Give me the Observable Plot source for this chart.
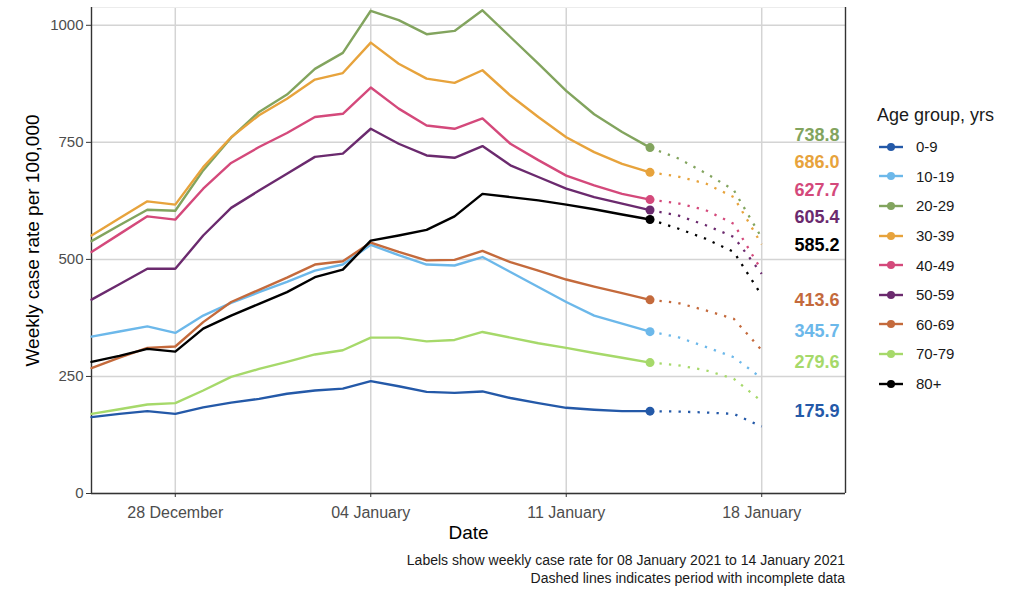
<!DOCTYPE html>
<html>
<head>
<meta charset="utf-8">
<script src="https://cdn.jsdelivr.net/npm/d3@7"></script>
<script src="https://cdn.jsdelivr.net/npm/@observablehq/plot@0.6"></script>
<style>
  html, body { margin: 0; padding: 0; background: #fff; }
  body { width: 1017px; height: 590px; position: relative; font-family: "Liberation Sans", Arial, sans-serif; overflow: hidden; }
  #caption { width: 845px; text-align: right; font-size: 14px; line-height: 18px; color: #1a1a1a; padding-top: 6px; }
  #legend { position: absolute; left: 877px; top: 100px; color: #1a1a1a; }
  #legend .title { font-size: 18px; height: 30px; line-height: 30px; margin-bottom: 2px; }
  #legend .item { display: flex; align-items: center; height: 29.6px; font-size: 15px; }
  #legend svg { margin-right: 13px; margin-left: 2px; }
</style>
</head>
<body>
<div id="chart"></div>
<div id="caption">Labels show weekly case rate for 08 January 2021 to 14 January 2021<br>Dashed lines indicates period with incomplete data</div>
<div id="legend"></div>
<script>
// ---- data ----
const dates = [
  "2020-12-25","2020-12-26","2020-12-27","2020-12-28","2020-12-29","2020-12-30","2020-12-31",
  "2021-01-01","2021-01-02","2021-01-03","2021-01-04","2021-01-05","2021-01-06","2021-01-07",
  "2021-01-08","2021-01-09","2021-01-10","2021-01-11","2021-01-12","2021-01-13","2021-01-14",
  "2021-01-15","2021-01-16","2021-01-17","2021-01-18"
];
const lastCompleteDate = "2021-01-14";
const groups = ["0-9","10-19","20-29","30-39","40-49","50-59","60-69","70-79","80+"];
const colors = ["#2459a8","#6cb8ea","#82a45e","#e7a33c","#d4497b","#6b2a6e","#c46a3c","#a6d96a","#000000"];

const rate_0_9   = [163,170,176,170,184,194,202,213,220,224,240,229,217,215,218,204,193,183,179,176,175.9,175,173,170,143];
const rate_10_19 = [335,346,357,343,380,407,430,452,476,489,531,509,489,487,505,473,441,409,380,363,345.7,334,313,291,246];
const rate_20_29 = [539,573,606,604,690,760,815,852,907,941,1031,1011,981,988,1032,975,918,860,810,772,738.8,716,684,648,546];
const rate_30_39 = [551,588,624,617,697,761,808,843,884,898,963,918,886,877,904,850,804,761,729,704,686.0,677,662,633,532];
const rate_40_49 = [516,554,592,585,651,706,740,770,804,811,867,822,786,779,801,747,712,679,658,640,627.7,620,605,576,476];
const rate_50_59 = [414,447,480,480,551,610,647,683,719,726,779,747,722,717,742,701,676,651,633,619,605.4,594,573,548,469];
const rate_60_69 = [268,290,311,314,366,409,435,461,489,496,536,516,498,499,518,494,476,457,442,428,413.6,407,391,373,306];
const rate_70_79 = [170,180,190,193,220,249,266,281,297,306,333,333,325,328,345,333,321,311,300,290,279.6,274,263,245,197];
const rate_80p   = [281,294,309,303,352,380,405,430,462,478,540,551,563,592,640,633,626,617,607,596,585.2,566,544,516,423];
const series = [rate_0_9, rate_10_19, rate_20_29, rate_30_39, rate_40_49, rate_50_59, rate_60_69, rate_70_79, rate_80p];

const xTicks = ["2020-12-28","2021-01-04","2021-01-11","2021-01-18"];
const yTicks = [0, 250, 500, 750, 1000];
const xDomainStr = ["2020-12-25","2021-01-21"];
const yMax = 1038;

// ---- build table ----
const parse = s => new Date(s + "T00:00:00Z");
const lastT = +parse(lastCompleteDate);
const rows = [];
groups.forEach((g, gi) => {
  series[gi].forEach((v, i) => rows.push({group: g, date: parse(dates[i]), value: v}));
});
const solid = rows.filter(d => +d.date <= lastT);
const dotted = rows.filter(d => +d.date >= lastT);
const last = rows.filter(d => +d.date === lastT);

// layout
const W = 1017, H = 545, mL = 91, mR = 172, mT = 7, mB = 52;
const pxPerUnit = (H - mT - mB) / yMax;

// simple 1-D label repel (in data units)
const gap = 27.5 / pxPerUnit;
const labels = last.map(d => ({...d, ly: d.value})).sort((a, b) => b.value - a.value);
for (let iter = 0; iter < 500; iter++) {
  for (let i = 0; i < labels.length - 1; i++) {
    const o = gap - (labels[i].ly - labels[i + 1].ly);
    if (o > 0) { labels[i].ly += o / 2; labels[i + 1].ly -= o / 2; }
  }
}

const xDomain = xDomainStr.map(parse);
const font = '"Liberation Sans", Arial, sans-serif';

const chart = Plot.plot({
  width: W, height: H,
  marginLeft: mL, marginRight: mR, marginTop: mT, marginBottom: mB,
  style: {fontFamily: font, background: "#fff"},
  x: {type: "utc", domain: xDomain},
  y: {domain: [0, yMax]},
  color: {domain: groups, range: colors},
  marks: [
    Plot.gridY(yTicks, {stroke: "#d4d4d4", strokeOpacity: 1, strokeWidth: 1.5}),
    Plot.gridX(xTicks.map(parse), {stroke: "#d4d4d4", strokeOpacity: 1, strokeWidth: 1.5}),
    Plot.ruleY([yMax], {stroke: "#ececec", strokeWidth: 1.2}),
    Plot.ruleY([0], {stroke: "#333", strokeWidth: 1.4}),
    Plot.ruleX(xDomain, {stroke: "#333", strokeWidth: 1.4}),
    Plot.axisY({ticks: yTicks, tickSize: 5, tickPadding: 3, fontSize: 15, label: null,
      tickFormat: d3.format("d"), stroke: "#333", fill: "#4d4d4d"}),
    Plot.axisX({ticks: xTicks.map(parse), tickSize: 4, tickPadding: 9, fontSize: 16, label: null,
      tickFormat: d3.utcFormat("%d %B"), stroke: "#333", fill: "#4d4d4d"}),
    Plot.line(solid, {x: "date", y: "value", z: "group", stroke: "group", strokeWidth: 2.4}),
    Plot.line(dotted, {x: "date", y: "value", z: "group", stroke: "group", strokeWidth: 2.3,
      strokeDasharray: "2.3,7.2", strokeLinecap: "butt"}),
    Plot.dot(last, {x: "date", y: "value", fill: "group", r: 4.5}),
    Plot.text(labels, {frameAnchor: "right", y: "ly", text: d => d.value.toFixed(1), fill: "group",
      fontWeight: "bold", fontSize: 18, textAnchor: "end", dx: -6}),
    Plot.text(["Date"], {frameAnchor: "bottom", dy: 45, fontSize: 19, fill: "#000", textAnchor: "middle"}),
    Plot.text(["Weekly case rate per 100,000"], {frameAnchor: "left", rotate: -90, dx: -59, dy: -10,
      fontSize: 19, fill: "#000", textAnchor: "middle"})
  ]
});
document.getElementById("chart").appendChild(chart);

// legend
const leg = document.getElementById("legend");
leg.innerHTML = '<div class="title">Age group, yrs</div>' + groups.map((g, i) =>
  `<div class="item"><svg width="24" height="12"><line x1="0" x2="24" y1="6" y2="6" stroke="${colors[i]}" stroke-width="2.4"/><circle cx="12" cy="6" r="4" fill="${colors[i]}"/></svg>${g}</div>`
).join("");
</script>
</body>
</html>
